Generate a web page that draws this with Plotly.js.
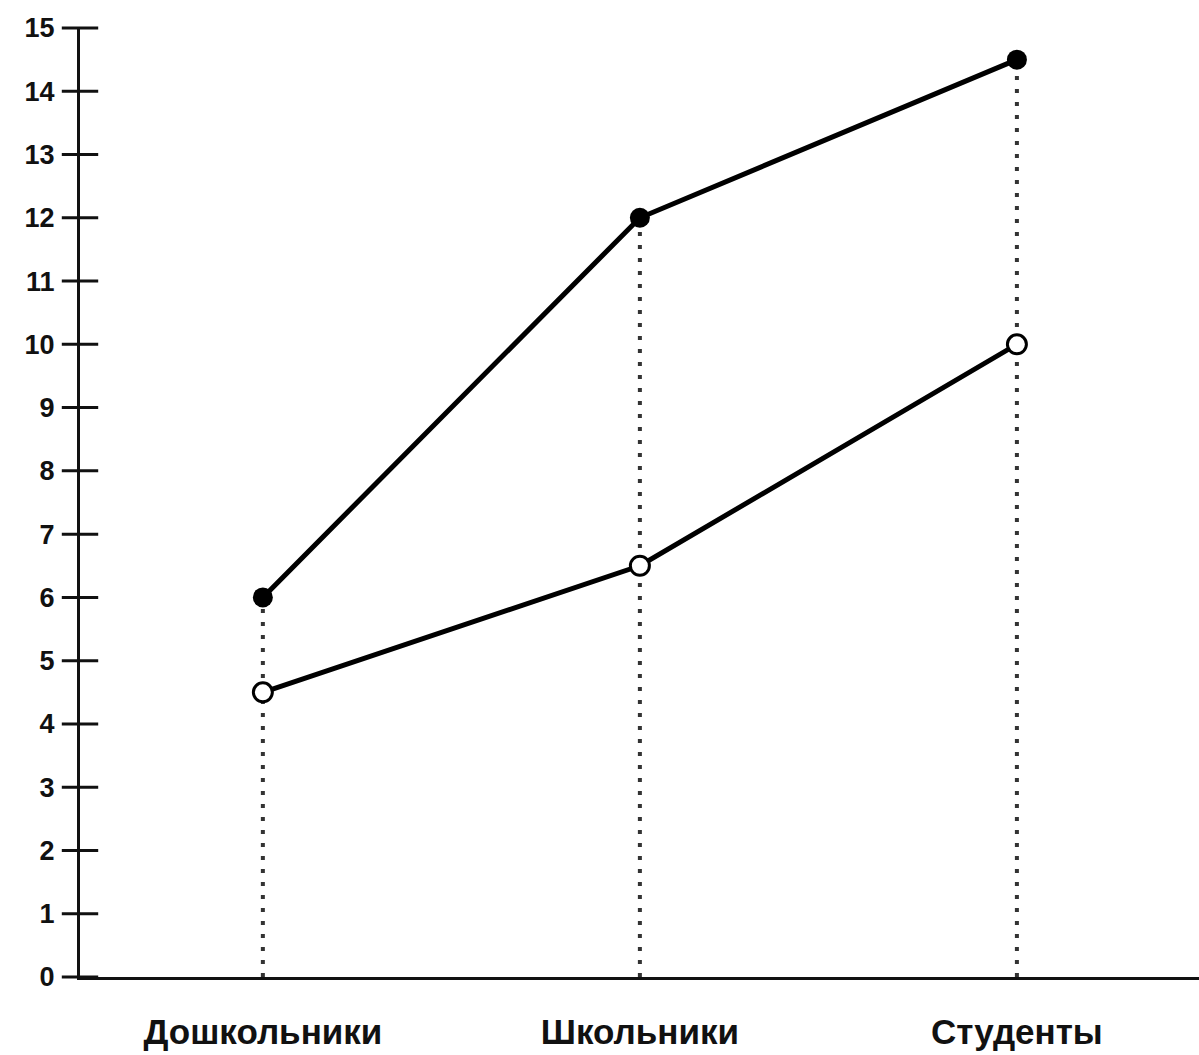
<!DOCTYPE html>
<html>
<head>
<meta charset="utf-8">
<script src="https://cdn.plot.ly/plotly-3.0.1.min.js"></script>
<style>
html,body{margin:0;padding:0;background:#fff;}
#chart{width:1199px;height:1055px;}
</style>
</head>
<body>
<div id="chart"></div>
<script>
var categories = ["Дошкольники", "Школьники", "Студенты"];
var filledSeries = [6, 12, 14.5];
var openSeries = [4.5, 6.5, 10];
var yTicks = [0,1,2,3,4,5,6,7,8,9,10,11,12,13,14,15];

var traces = [];
// dotted drop lines from upper point down to the axis
categories.forEach(function(c, i){
  traces.push({
    x: [c, c],
    y: [0, filledSeries[i]],
    mode: "lines",
    line: {color: "#333", width: 4, dash: "4px,9px"},
    hoverinfo: "skip",
    showlegend: false
  });
});
traces.push({
  x: categories,
  y: openSeries,
  mode: "lines+markers",
  line: {color: "#000", width: 5},
  marker: {size: 19, color: "#fff", line: {color: "#000", width: 3}},
  showlegend: false
});
traces.push({
  x: categories,
  y: filledSeries,
  mode: "lines+markers",
  line: {color: "#000", width: 5},
  marker: {size: 20, color: "#000"},
  showlegend: false
});
// crossing tick marks on the y axis (drawn on a helper x axis whose 0 is the y axis line)
traces.push({
  x: yTicks.map(function(){ return 0; }),
  y: yTicks,
  xaxis: "x2",
  mode: "markers",
  cliponaxis: false,
  marker: {symbol: "line-ew", size: 26, color: "#111", line: {color: "#111", width: 3}},
  hoverinfo: "skip",
  showlegend: false
});

var fam = "Liberation Sans, Arial, sans-serif";

var layout = {
  width: 1199,
  height: 1055,
  margin: {l: 80, r: 0, t: 28, b: 78},
  paper_bgcolor: "#fff",
  plot_bgcolor: "#fff",
  showlegend: false,
  xaxis: {
    type: "category",
    range: [-0.485, 2.483],
    showline: true,
    linecolor: "#111",
    linewidth: 3,
    showgrid: false,
    zeroline: false,
    ticks: "",
    ticklabelstandoff: 22,
    tickfont: {family: fam, color: "#111", size: 35, weight: "bold"}
  },
  xaxis2: {
    overlaying: "x",
    range: [0, 1],
    visible: false
  },
  yaxis: {
    range: [0, 15],
    tickvals: yTicks,
    ticktext: yTicks.map(String),
    showline: true,
    linecolor: "#111",
    linewidth: 3,
    showgrid: false,
    zeroline: false,
    ticks: "",
    ticklabelstandoff: 17,
    tickfont: {family: fam, color: "#111", size: 27, weight: "bold"}
  }
};

Plotly.newPlot("chart", traces, layout, {displayModeBar: false, staticPlot: true});
</script>
</body>
</html>
